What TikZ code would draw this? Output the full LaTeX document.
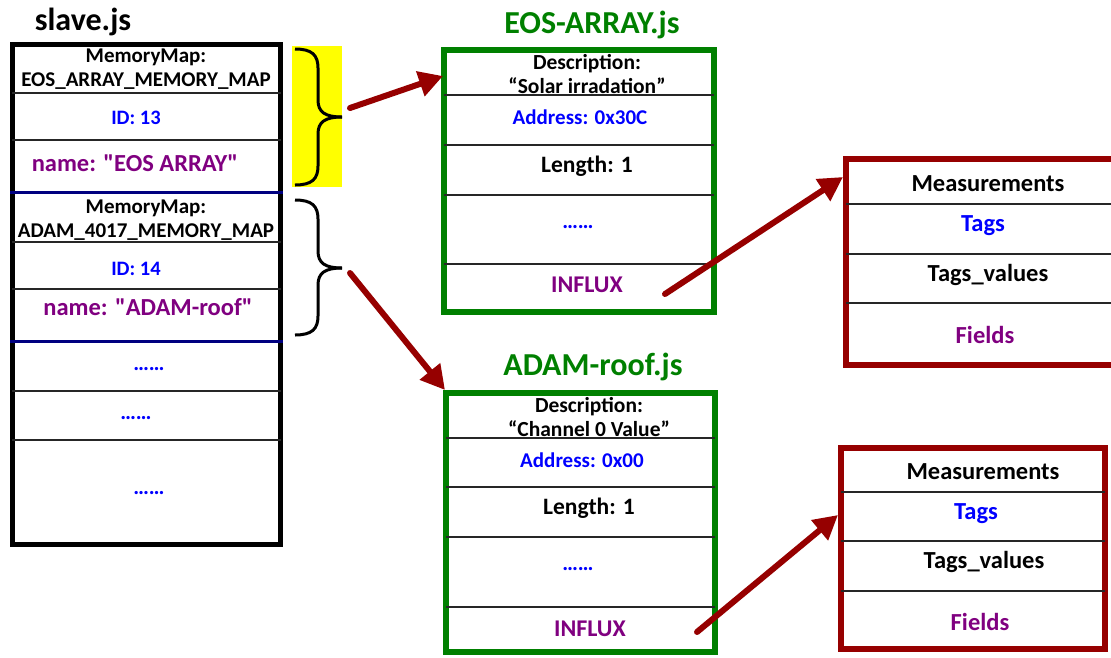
\documentclass[tikz,border=0pt]{standalone}
\usepackage{fontspec}
\setmainfont{Carlito}[Ligatures=TeXOff]
\usetikzlibrary{arrows.meta}
\definecolor{boxgreen}{RGB}{0,128,0}
\definecolor{arrred}{RGB}{150,0,0}
\definecolor{txtblue}{RGB}{0,0,255}
\definecolor{txtpurple}{RGB}{128,0,128}
\definecolor{navy}{RGB}{0,0,128}
\definecolor{hl}{RGB}{255,255,0}
\tikzset{
  fs/.style={font=\fontsize{#1}{23.5}\selectfont\bfseries},
  frame/.style={draw, rectangle, inner sep=0pt, outer sep=0pt},
  slavebox/.style={frame, line width=5pt, draw=black},
  jsbox/.style={frame, line width=6pt, draw=boxgreen},
  measbox/.style={frame, line width=6pt, draw=arrred},
  divider/.style={line width=1.2pt, black!85},
  bluediv/.style={line width=3pt, navy},
  bracepath/.style={line width=3pt, black},
  bigarrow/.style={line width=6pt, arrred, line cap=round, -{Triangle[length=24pt,width=25pt]}},
  ttl/.style={fs=32},
  lbl/.style={inner sep=0pt, align=center},
}
\begin{document}
\begin{tikzpicture}[x=1pt,y=-1pt]
\useasboundingbox (0,0) rectangle (1111,657);
\begin{scope}
\clip (0,0) rectangle (1111,657);
% titles
\node[lbl, ttl] (tslave) at (83,22) {slave.js};
\node[lbl, ttl, text=boxgreen] (teos) at (592,25) {EOS-ARRAY.js};
\node[lbl, ttl, text=boxgreen] (tadam) at (593,367) {ADAM-roof.js};

% highlight
\fill[hl] (292,46) rectangle (342,187);

% slave box
\node[slavebox, minimum width=268pt, minimum height=500pt] (slave) at (146.5,294.5) {};
\draw[divider] (12,93) -- (281,93);
\draw[divider] (12,140) -- (281,140);
\draw[bluediv] (10,192) -- (283,192);
\draw[divider] (12,242) -- (281,242);
\draw[divider] (12,289) -- (281,289);
\draw[bluediv] (10,341) -- (283,341);
\draw[divider] (12,391) -- (281,391);
\draw[divider] (12,440) -- (281,440);

\node[lbl, fs=21] (mm1) at (146,69) {MemoryMap:\\EOS\_ARRAY\_MEMORY\_MAP};
\node[lbl, fs=20.5, text=txtblue] (id1) at (136,118) {ID: 13};
\node[lbl, fs=24.5, text=txtpurple] (nm1) at (135,163) {name: "EOS ARRAY"};
\node[lbl, fs=21] (mm2) at (146,220) {MemoryMap:\\ADAM\_4017\_MEMORY\_MAP};
\node[lbl, fs=20.5, text=txtblue] (id2) at (136,269) {ID: 14};
\node[lbl, fs=24.5, text=txtpurple] (nm2) at (148,307) {name: "ADAM-roof"};
\node[lbl, fs=22, text=txtblue] (d1) at (149,369) {……};
\node[lbl, fs=22, text=txtblue] (d2) at (136,418) {……};
\node[lbl, fs=22, text=txtblue] (d3) at (149,493) {……};

% braces
\draw[bracepath] (295,49) .. controls (312,49) and (318,55) .. (318,68) -- (318,100)
  .. controls (318,112) and (325,117) .. (342,117);
\draw[bracepath] (342,117) .. controls (325,117) and (318,122) .. (318,134) -- (318,166)
  .. controls (318,179) and (312,185) .. (295,185);
\coordinate (b1tip) at (342,117);
\draw[bracepath] (295,200) .. controls (312,200) and (318,206) .. (318,219) -- (318,251)
  .. controls (318,263) and (325,268) .. (342,268);
\draw[bracepath] (342,268) .. controls (325,268) and (318,273) .. (318,285) -- (318,316)
  .. controls (318,329) and (312,335) .. (295,335);
\coordinate (b2tip) at (342,268);

% EOS box
\node[jsbox, minimum width=270pt, minimum height=262pt] (eos) at (579,181) {};
\draw[divider] (444,95) -- (714,95);
\draw[divider] (444,145) -- (714,145);
\draw[divider] (444,195) -- (714,195);
\draw[divider] (444,264) -- (714,264);
\node[lbl, fs=21.5] (eosdesc) at (587,74) {Description:\\“Solar irradation”};
\node[lbl, fs=21, text=txtblue] (eosaddr) at (580,117) {Address: 0x30C};
\node[lbl, fs=23.5] (eoslen) at (587,166) {Length: 1};
\node[lbl, fs=22, text=txtblue] (eosdots) at (578,227) {……};
\node[lbl, fs=24, text=txtpurple] (eosinf) at (587,285) {INFLUX};

% ADAM box
\node[jsbox, minimum width=269pt, minimum height=259pt] (adam) at (580.5,522.5) {};
\draw[divider] (446,438) -- (715,438);
\draw[divider] (446,487) -- (715,487);
\draw[divider] (446,537) -- (715,537);
\draw[divider] (446,607) -- (715,607);
\node[lbl, fs=21.5] (adamdesc) at (589,417) {Description:\\“Channel 0 Value”};
\node[lbl, fs=21, text=txtblue] (adamaddr) at (582,460) {Address: 0x00};
\node[lbl, fs=23.5] (adamlen) at (589,508) {Length: 1};
\node[lbl, fs=22, text=txtblue] (adamdots) at (578,569) {……};
\node[lbl, fs=24, text=txtpurple] (adaminf) at (590,629) {INFLUX};

% Measurements 1
\node[measbox, minimum width=274pt, minimum height=206pt] (meas1) at (983,262) {};
\draw[divider] (846,204) -- (1120,204);
\draw[divider] (846,254) -- (1120,254);
\draw[divider] (846,303) -- (1120,303);
\node[lbl, fs=24.5] (m1a) at (988,184) {Measurements};
\node[lbl, fs=24.5, text=txtblue] (m1b) at (983,226) {Tags};
\node[lbl, fs=24.5] (m1c) at (988,275) {Tags\_values};
\node[lbl, fs=24.5, text=txtpurple] (m1d) at (985,335) {Fields};

% Measurements 2
\node[measbox, minimum width=264pt, minimum height=201pt] (meas2) at (973,548.5) {};
\draw[divider] (841,492) -- (1105,492);
\draw[divider] (841,541) -- (1105,541);
\draw[divider] (841,591) -- (1105,591);
\node[lbl, fs=24.5] (m2a) at (983,472) {Measurements};
\node[lbl, fs=24.5, text=txtblue] (m2b) at (976,514) {Tags};
\node[lbl, fs=24.5] (m2c) at (984,562) {Tags\_values};
\node[lbl, fs=24.5, text=txtpurple] (m2d) at (980,622) {Fields};

% arrows
\coordinate (a1s) at (350,108);
\coordinate (a1e) at (443,76);
\coordinate (a2s) at (350,273);
\coordinate (a2e) at (445,390);
\coordinate (a3s) at (665,294);
\coordinate (a3e) at (843,177);
\coordinate (a4s) at (697,632);
\coordinate (a4e) at (838,515);
\draw[bigarrow] (a1s) -- (a1e);
\draw[bigarrow] (a2s) -- (a2e);
\draw[bigarrow] (a3s) -- (a3e);
\draw[bigarrow] (a4s) -- (a4e);
\end{scope}
\end{tikzpicture}
\end{document}
